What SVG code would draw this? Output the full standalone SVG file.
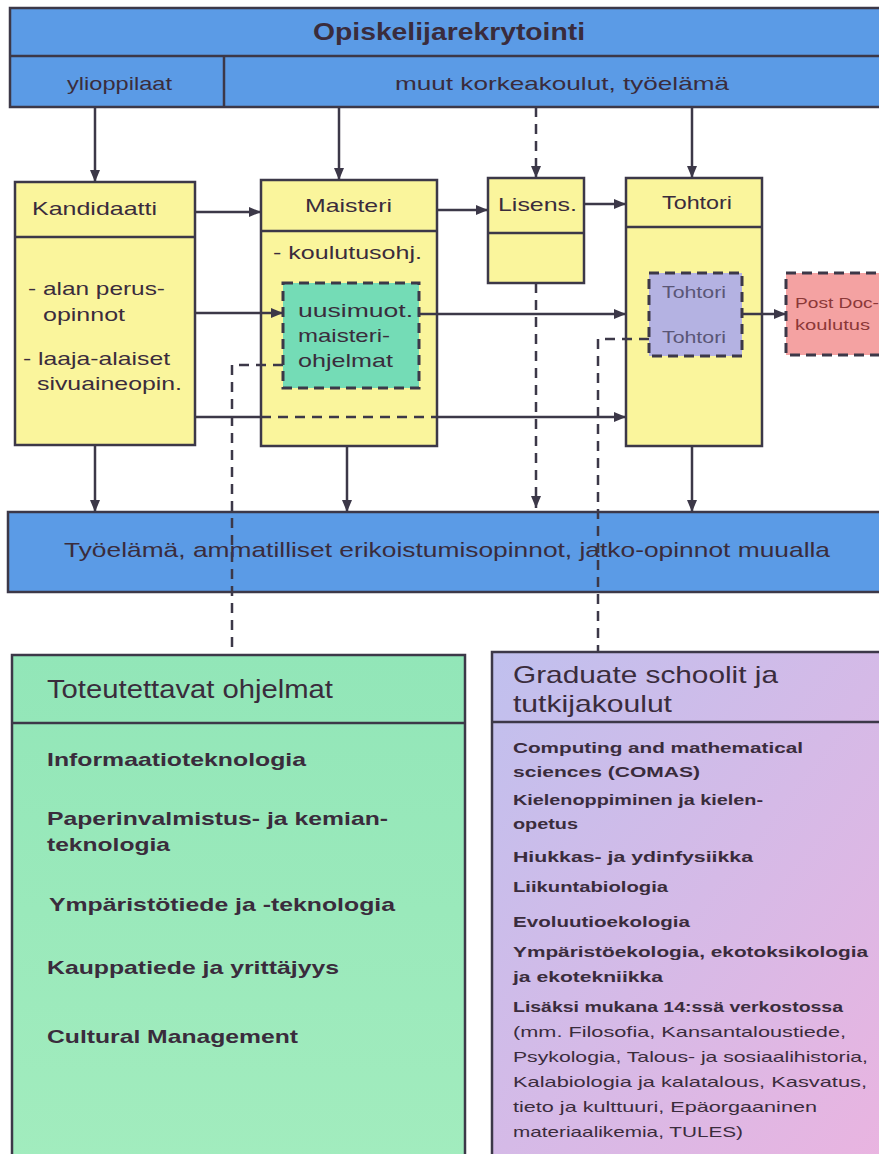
<svg xmlns="http://www.w3.org/2000/svg" width="879" height="1154" viewBox="0 0 879 1154">
<style>
.t{font-family:"Liberation Sans",Arial,sans-serif;fill:#3a2c3c}
.b{font-weight:bold}
.box{stroke:#3c3848;stroke-width:2.5}
.ln{stroke:#3c3848;stroke-width:2.5;fill:none}
.dash{stroke-dasharray:10 7}
.dbox{stroke:#3c3848;stroke-width:3;stroke-dasharray:10 6}
.blue{fill:#5b9be6}
.yel{fill:#faf59c}
</style>
<defs>
<marker id="ah" markerWidth="12" markerHeight="10" refX="12" refY="5" orient="auto" markerUnits="userSpaceOnUse"><path d="M0,0 L12,5 L0,10 z" fill="#3c3848"/></marker>
<linearGradient id="gp" x1="0" y1="0" x2="1" y2="1"><stop offset="0" stop-color="#c0c0ee"/><stop offset="1" stop-color="#eab4e0"/></linearGradient>
<linearGradient id="gg" x1="0" y1="0" x2="0" y2="1"><stop offset="0" stop-color="#92e6b8"/><stop offset="1" stop-color="#a2ecbe"/></linearGradient>
</defs>

<g id="rekrytointi">
<rect class="box blue" x="10" y="8" width="880" height="99"/>
<line class="ln" x1="10" y1="56" x2="890" y2="56"/>
<line class="ln" x1="224" y1="56" x2="224" y2="107"/>
<text class="t b" x="313" y="40" font-size="23" textLength="272" lengthAdjust="spacingAndGlyphs">Opiskelijarekrytointi</text>
<text class="t" x="67" y="90" font-size="19" textLength="105" lengthAdjust="spacingAndGlyphs">ylioppilaat</text>
<text class="t" x="395" y="90" font-size="19" textLength="334" lengthAdjust="spacingAndGlyphs">muut korkeakoulut, työelämä</text>
</g>

<g id="kandidaatti">
<rect class="box yel" x="15" y="182" width="180" height="263"/>
<line class="ln" x1="15" y1="237" x2="195" y2="237"/>
<text class="t" x="32" y="215" font-size="19" textLength="125" lengthAdjust="spacingAndGlyphs">Kandidaatti</text>
<text class="t" x="28" y="295" font-size="19" textLength="137" lengthAdjust="spacingAndGlyphs">- alan perus-</text>
<text class="t" x="43" y="321" font-size="19" textLength="82" lengthAdjust="spacingAndGlyphs">opinnot</text>
<text class="t" x="23" y="365" font-size="19" textLength="147" lengthAdjust="spacingAndGlyphs">- laaja-alaiset</text>
<text class="t" x="37" y="390" font-size="19" textLength="145" lengthAdjust="spacingAndGlyphs">sivuaineopin.</text>
</g>

<g id="maisteri">
<rect class="box yel" x="261" y="180" width="176" height="266"/>
<line class="ln" x1="261" y1="231" x2="437" y2="231"/>
<text class="t" x="305" y="212" font-size="19" textLength="87" lengthAdjust="spacingAndGlyphs">Maisteri</text>
<text class="t" x="273" y="259" font-size="19" textLength="149" lengthAdjust="spacingAndGlyphs">- koulutusohj.</text>
</g>

<g id="maisteriohjelmat">
<rect class="dbox" fill="#74dcb6" x="283" y="283" width="136" height="105"/>
<text class="t" x="298" y="317" font-size="19" textLength="115" lengthAdjust="spacingAndGlyphs">uusimuot.</text>
<text class="t" x="298" y="342" font-size="19" textLength="92" lengthAdjust="spacingAndGlyphs">maisteri-</text>
<text class="t" x="298" y="367" font-size="19" textLength="95" lengthAdjust="spacingAndGlyphs">ohjelmat</text>
</g>

<g id="lisens">
<rect class="box yel" x="488" y="178" width="96" height="105"/>
<line class="ln" x1="488" y1="233" x2="584" y2="233"/>
<text class="t" x="498" y="211" font-size="19" textLength="79" lengthAdjust="spacingAndGlyphs">Lisens.</text>
</g>

<g id="tohtori">
<rect class="box yel" x="626" y="178" width="136" height="268"/>
<line class="ln" x1="626" y1="227" x2="762" y2="227"/>
<text class="t" x="662" y="209" font-size="19" textLength="70" lengthAdjust="spacingAndGlyphs">Tohtori</text>
</g>

<g id="tohtoriohjelma">
<rect class="dbox" fill="#b4b2e2" x="649" y="273" width="93" height="83"/>
<text class="t" x="662" y="298" font-size="16" fill="#5a5676" style="fill:#5a5676" textLength="64" lengthAdjust="spacingAndGlyphs">Tohtori</text>
<text class="t" x="662" y="343" font-size="16" style="fill:#5a5676" textLength="64" lengthAdjust="spacingAndGlyphs">Tohtori</text>
</g>

<g id="postdoc">
<rect class="dbox" fill="#f4a2a2" x="786" y="273" width="110" height="82"/>
<text class="t" x="795" y="308" font-size="14" style="fill:#8b3838" textLength="84" lengthAdjust="spacingAndGlyphs">Post Doc-</text>
<text class="t" x="795" y="330" font-size="14" style="fill:#8b3838" textLength="75" lengthAdjust="spacingAndGlyphs">koulutus</text>
</g>

<g id="tyoelama">
<rect class="box blue" x="8" y="512" width="882" height="80"/>
<text class="t" x="64" y="557" font-size="21" textLength="766" lengthAdjust="spacingAndGlyphs">Työelämä, ammatilliset erikoistumisopinnot, jatko-opinnot muualla</text>
</g>

<g id="toteutettavat">
<rect class="box" fill="url(#gg)" x="12" y="655" width="453" height="510"/>
<line class="ln" x1="12" y1="723" x2="465" y2="723"/>
<text class="t" x="47" y="698" font-size="26" textLength="286" lengthAdjust="spacingAndGlyphs">Toteutettavat ohjelmat</text>
<text class="t b" x="47" y="766" font-size="19" textLength="259" lengthAdjust="spacingAndGlyphs">Informaatioteknologia</text>
<text class="t b" x="47" y="825" font-size="19" textLength="341" lengthAdjust="spacingAndGlyphs">Paperinvalmistus- ja kemian-</text>
<text class="t b" x="47" y="851" font-size="19" textLength="123" lengthAdjust="spacingAndGlyphs">teknologia</text>
<text class="t b" x="49" y="911" font-size="19" textLength="346" lengthAdjust="spacingAndGlyphs">Ympäristötiede ja -teknologia</text>
<text class="t b" x="47" y="974" font-size="19" textLength="292" lengthAdjust="spacingAndGlyphs">Kauppatiede ja yrittäjyys</text>
<text class="t b" x="47" y="1043" font-size="19" textLength="251" lengthAdjust="spacingAndGlyphs">Cultural Management</text>
</g>

<g id="graduate">
<rect class="box" fill="url(#gp)" x="492" y="652" width="400" height="513"/>
<line class="ln" x1="492" y1="722" x2="892" y2="722"/>
<text class="t" x="513" y="683" font-size="24" textLength="265" lengthAdjust="spacingAndGlyphs">Graduate schoolit ja</text>
<text class="t" x="513" y="712" font-size="24" textLength="159" lengthAdjust="spacingAndGlyphs">tutkijakoulut</text>
<text class="t b" x="513" y="753" font-size="15" textLength="290" lengthAdjust="spacingAndGlyphs">Computing and mathematical</text>
<text class="t b" x="513" y="777" font-size="15" textLength="187" lengthAdjust="spacingAndGlyphs">sciences (COMAS)</text>
<text class="t b" x="513" y="805" font-size="15" textLength="250" lengthAdjust="spacingAndGlyphs">Kielenoppiminen ja kielen-</text>
<text class="t b" x="513" y="829" font-size="15" textLength="65" lengthAdjust="spacingAndGlyphs">opetus</text>
<text class="t b" x="513" y="862" font-size="15" textLength="240" lengthAdjust="spacingAndGlyphs">Hiukkas- ja ydinfysiikka</text>
<text class="t b" x="513" y="892" font-size="15" textLength="155" lengthAdjust="spacingAndGlyphs">Liikuntabiologia</text>
<text class="t b" x="513" y="927" font-size="15" textLength="177" lengthAdjust="spacingAndGlyphs">Evoluutioekologia</text>
<text class="t b" x="513" y="957" font-size="15" textLength="355" lengthAdjust="spacingAndGlyphs">Ympäristöekologia, ekotoksikologia</text>
<text class="t b" x="513" y="982" font-size="15" textLength="150" lengthAdjust="spacingAndGlyphs">ja ekotekniikka</text>
<text class="t b" x="513" y="1012" font-size="15" textLength="330" lengthAdjust="spacingAndGlyphs">Lisäksi mukana 14:ssä verkostossa</text>
<text class="t" x="513" y="1037" font-size="15" textLength="333" lengthAdjust="spacingAndGlyphs">(mm. Filosofia, Kansantaloustiede,</text>
<text class="t" x="513" y="1062" font-size="15" textLength="355" lengthAdjust="spacingAndGlyphs">Psykologia, Talous- ja sosiaalihistoria,</text>
<text class="t" x="513" y="1087" font-size="15" textLength="354" lengthAdjust="spacingAndGlyphs">Kalabiologia ja kalatalous, Kasvatus,</text>
<text class="t" x="513" y="1112" font-size="15" textLength="304" lengthAdjust="spacingAndGlyphs">tieto ja kulttuuri, Epäorgaaninen</text>
<text class="t" x="513" y="1137" font-size="15" textLength="230" lengthAdjust="spacingAndGlyphs">materiaalikemia, TULES)</text>
</g>

<g id="connectors">
<path class="ln" d="M95,107 V182" marker-end="url(#ah)"/>
<path class="ln" d="M339,107 V180" marker-end="url(#ah)"/>
<path class="ln dash" d="M536,107 V178" marker-end="url(#ah)"/>
<path class="ln" d="M692,107 V178" marker-end="url(#ah)"/>
<path class="ln" d="M195,212 H261" marker-end="url(#ah)"/>
<path class="ln" d="M437,210 H488" marker-end="url(#ah)"/>
<path class="ln" d="M584,204 H626" marker-end="url(#ah)"/>
<path class="ln" d="M195,313 H283" marker-end="url(#ah)"/>
<path class="ln" d="M419,314 H626" marker-end="url(#ah)"/>
<path class="ln" d="M742,314 H786" marker-end="url(#ah)"/>
<path class="ln" d="M195,417 H261"/>
<path class="ln dash" d="M261,417 H437"/>
<path class="ln" d="M437,417 H626" marker-end="url(#ah)"/>
<path class="ln" d="M95,445 V512" marker-end="url(#ah)"/>
<path class="ln" d="M347,446 V512" marker-end="url(#ah)"/>
<path class="ln dash" d="M536,283 V508" marker-end="url(#ah)"/>
<path class="ln" d="M692,446 V512" marker-end="url(#ah)"/>
<path class="ln dash" d="M283,365 H232 V655"/>
<path class="ln dash" d="M649,339 H598 V652"/>
</g>
</svg>
